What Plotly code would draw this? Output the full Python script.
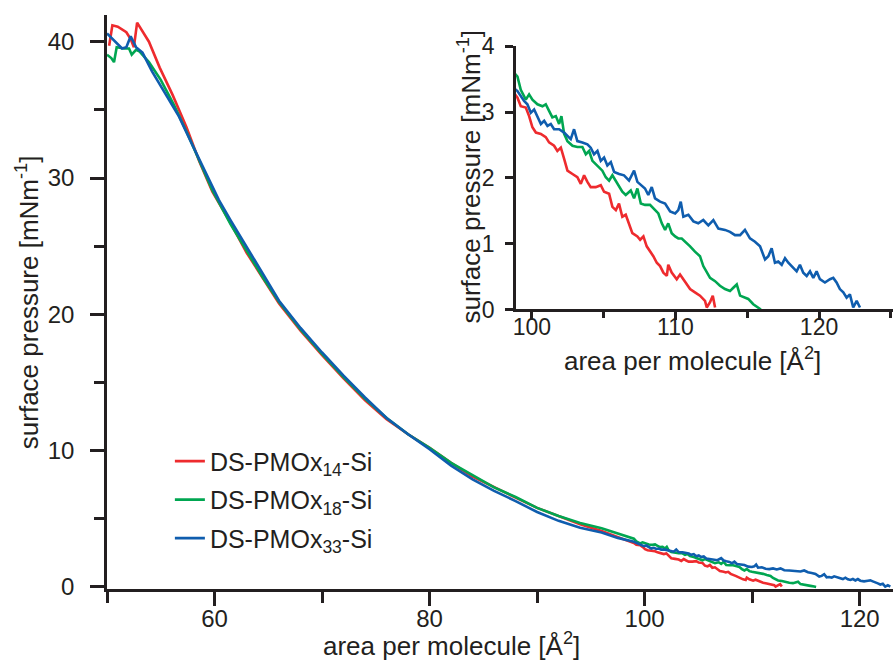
import plotly.graph_objects as go

# ---------------- data ----------------
series_names = ["DS-PMOx<sub>14</sub>-Si", "DS-PMOx<sub>18</sub>-Si", "DS-PMOx<sub>33</sub>-Si"]
series_colors = ["#EE2B2E", "#00A651", "#0F5DAE"]

# compressed region (50 - 97.5 Å²)
red_area_high = [50.2, 50.5, 51.0, 51.8, 52.2, 52.5, 52.8, 53.3, 53.9, 54.9,
                 56.1, 57.4, 58.6, 59.8, 61.5, 63.0, 64.5, 66.0, 68.0, 70.0,
                 72.0, 74.0, 76.0, 78.0, 80.0, 82.0, 84.0, 86.0, 88.0, 90.0,
                 92.0, 94.0, 96.0, 97.5]
red_pressure_high = [39.7, 41.2, 41.1, 40.7, 40.2, 39.6, 41.4, 40.8, 40.0, 38.1,
                     36.1, 33.7, 31.2, 29.0, 26.7, 24.5, 22.6, 20.8, 18.8, 17.0,
                     15.3, 13.7, 12.3, 11.2, 10.2, 9.1, 8.1, 7.3, 6.55, 5.8,
                     5.2, 4.6, 4.1, 3.65]
green_area_high = [50.0, 50.4, 50.65, 50.9, 51.6, 52.05, 52.3, 52.7, 53.0, 53.9,
                   55.0, 56.2, 57.4, 58.6, 59.8, 61.5, 63.0, 64.5, 66.0, 68.0,
                   70.0, 72.0, 74.0, 76.0, 78.0, 80.0, 82.0, 84.0, 86.0, 88.0,
                   90.0, 92.0, 94.0, 96.0, 97.5]
green_pressure_high = [39.05, 38.8, 38.5, 39.6, 39.5, 39.5, 39.05, 39.4, 39.3, 38.5,
                       37.2, 35.4, 33.4, 31.2, 29.1, 26.6, 24.6, 22.7, 20.9, 18.9,
                       17.1, 15.4, 13.8, 12.4, 11.2, 10.2, 9.1, 8.2, 7.3, 6.6,
                       5.8, 5.2, 4.7, 4.3, 3.9]
blue_area_high = [50.0, 50.65, 51.0, 51.4, 51.8, 52.2, 52.7, 53.3, 54.2, 55.5,
                  56.7, 57.9, 59.2, 60.4, 61.5, 63.0, 64.5, 66.0, 68.0, 70.0,
                  72.0, 74.0, 76.0, 78.0, 80.0, 82.0, 84.0, 86.0, 88.0, 90.0,
                  92.0, 94.0, 96.0, 97.5]
blue_pressure_high = [40.6, 40.1, 39.8, 39.5, 39.6, 40.4, 39.6, 39.2, 37.8, 36.1,
                      34.5, 32.5, 30.3, 28.4, 26.9, 24.9, 22.9, 21.0, 19.0, 17.2,
                      15.5, 13.9, 12.4, 11.2, 10.1, 8.9, 7.9, 7.05, 6.3, 5.5,
                      4.85, 4.35, 4.0, 3.6]

# expanded region (99 - 123 Å²)
red_area_low = [99.0, 99.23, 99.58, 99.81, 100.04, 100.28, 100.63, 100.97, 101.2, 101.55,
                101.78, 102.02, 102.25, 102.48, 102.83, 103.17, 103.41, 103.64, 103.87, 104.1,
                104.45, 104.8, 105.03, 105.38, 105.61, 105.85, 106.07, 106.3, 106.54, 106.77,
                107.0, 107.35, 107.54, 107.77, 108.0, 108.46, 108.7, 108.93, 109.16, 109.4,
                109.5, 109.74, 110.09, 110.32, 110.67, 111.02, 111.36, 111.71, 112.06, 112.18,
                112.41, 112.6, 112.76]
red_pressure_low = [3.22, 3.09, 3.07, 2.94, 2.77, 2.69, 2.67, 2.62, 2.54, 2.49,
                    2.41, 2.46, 2.29, 2.11, 2.06, 2.01, 1.91, 2.04, 1.94, 1.86,
                    1.86, 1.89, 1.79, 1.76, 1.56, 1.51, 1.61, 1.41, 1.44, 1.31,
                    1.16, 1.11, 1.06, 1.11, 0.96, 0.81, 0.71, 0.66, 0.56, 0.51,
                    0.68, 0.56, 0.46, 0.53, 0.41, 0.31, 0.26, 0.21, 0.13, 0.03,
                    0.11, 0.21, 0.03]
green_area_low = [99.0, 99.23, 99.58, 99.81, 100.04, 100.39, 100.74, 100.97, 101.2, 101.43,
                  101.67, 101.9, 102.06, 102.25, 102.48, 102.83, 103.17, 103.52, 103.76, 103.99,
                  104.22, 104.57, 104.91, 105.15, 105.38, 105.61, 105.96, 106.3, 106.54, 106.89,
                  107.12, 107.35, 107.59, 107.88, 108.23, 108.58, 108.81, 109.05, 109.28, 109.5,
                  109.74, 109.98, 110.2, 110.44, 110.79, 111.02, 111.36, 111.71, 111.94, 112.18,
                  112.41, 112.76, 113.1, 113.45, 113.8, 114.03, 114.27, 114.5, 114.84, 115.07,
                  115.42, 115.77, 115.95]
green_pressure_low = [3.54, 3.34, 3.19, 3.27, 3.19, 3.12, 3.09, 3.12, 3.02, 2.92,
                      2.94, 2.82, 2.94, 2.67, 2.56, 2.49, 2.47, 2.47, 2.36, 2.41,
                      2.26, 2.19, 2.11, 2.01, 1.96, 2.04, 1.91, 1.79, 1.74, 1.81,
                      1.69, 1.84, 1.61, 1.59, 1.59, 1.51, 1.46, 1.31, 1.21, 1.31,
                      1.16, 1.11, 1.08, 1.08, 1.01, 0.96, 0.88, 0.81, 0.66, 0.56,
                      0.48, 0.43, 0.36, 0.31, 0.28, 0.33, 0.38, 0.21, 0.18, 0.16,
                      0.08, 0.03, 0.0]
blue_area_low = [99.0, 99.23, 99.46, 99.69, 99.93, 100.16, 100.39, 100.63, 100.86, 101.09,
                 101.32, 101.55, 101.9, 102.25, 102.48, 102.71, 102.94, 103.17, 103.52, 103.87,
                 104.1, 104.33, 104.57, 104.8, 105.03, 105.26, 105.5, 105.73, 106.08, 106.42,
                 106.77, 107.12, 107.35, 107.6, 107.88, 108.11, 108.35, 108.58, 108.93, 109.28,
                 109.63, 109.98, 110.2, 110.37, 110.55, 110.9, 111.25, 111.59, 111.94, 112.29,
                 112.64, 112.99, 113.45, 113.8, 114.15, 114.5, 114.84, 115.19, 115.54, 115.89,
                 116.24, 116.47, 116.7, 116.93, 117.16, 117.4, 117.63, 117.86, 118.2, 118.44,
                 118.67, 118.9, 119.14, 119.37, 119.6, 119.83, 120.06, 120.41, 120.76, 120.99,
                 121.22, 121.45, 121.69, 121.92, 122.15, 122.38, 122.62, 122.85]
blue_pressure_low = [3.32, 3.24, 3.17, 3.12, 2.99, 3.04, 2.92, 2.82, 2.87, 2.79,
                     2.82, 2.74, 2.74, 2.69, 2.64, 2.59, 2.74, 2.56, 2.54, 2.51,
                     2.46, 2.36, 2.41, 2.26, 2.31, 2.19, 2.24, 2.09, 2.06, 2.04,
                     1.96, 2.11, 1.94, 1.89, 1.84, 1.74, 1.86, 1.69, 1.64, 1.61,
                     1.49, 1.46, 1.51, 1.64, 1.41, 1.44, 1.34, 1.31, 1.36, 1.28,
                     1.36, 1.23, 1.21, 1.18, 1.13, 1.13, 1.21, 1.08, 1.03, 0.96,
                     0.76, 0.81, 0.93, 0.71, 0.73, 0.68, 0.78, 0.71, 0.63, 0.58,
                     0.68, 0.56, 0.51, 0.58, 0.48, 0.58, 0.46, 0.41, 0.46, 0.48,
                     0.41, 0.31, 0.26, 0.18, 0.23, 0.03, 0.13, 0.03]

areas = [red_area_high + red_area_low,
         green_area_high + green_area_low,
         blue_area_high + blue_area_low]
pressures = [red_pressure_high + red_pressure_low,
             green_pressure_high + green_pressure_low,
             blue_pressure_high + blue_pressure_low]

main_x_ticks = [60, 80, 100, 120]
main_y_ticks = [0, 10, 20, 30, 40]
inset_x_ticks = [100, 110, 120]
inset_y_ticks = [0, 1, 2, 3, 4]

x_title = "area per molecule [Å<sup>2</sup>]"
y_title = "surface pressure [mNm<sup>-1</sup>]"

# ---------------- figure ----------------
AX = "#231F20"
FONT = "Liberation Sans, Arial, sans-serif"
LW = 2.6

fig = go.Figure()
for i in range(3):
    fig.add_trace(go.Scatter(
        x=areas[i], y=pressures[i], mode="lines", name=series_names[i],
        line=dict(color=series_colors[i], width=LW),
        legendgroup=f"g{i}", xaxis="x", yaxis="y"))
for i in range(3):
    fig.add_trace(go.Scatter(
        x=areas[i], y=pressures[i], mode="lines", showlegend=False,
        line=dict(color=series_colors[i], width=LW),
        xaxis="x2", yaxis="y2"))

common = dict(showgrid=False, zeroline=False, showline=True, linecolor=AX,
              linewidth=LW, ticks="outside", tickcolor=AX, tickwidth=LW)

fig.update_layout(
    width=895, height=661,
    margin=dict(l=107, r=2, t=10, b=72),
    paper_bgcolor="white", plot_bgcolor="white",
    font=dict(family=FONT, color=AX),
    xaxis=dict(range=[50, 123.1], tickvals=main_x_ticks, ticklen=14,
               ticklabelstandoff=-8,
               tickfont=dict(family=FONT, size=24, color=AX),
               minor=dict(dtick=10, tick0=50, ticklen=11, tickwidth=LW,
                          tickcolor=AX, ticks="outside"),
               domain=[0, 1], anchor="y", **common),
    yaxis=dict(range=[-0.15, 41.96], tickvals=main_y_ticks, ticklen=14,
               ticklabelstandoff=11,
               tickfont=dict(family=FONT, size=24, color=AX),
               minor=dict(dtick=5, tick0=0, ticklen=10, tickwidth=LW,
                          tickcolor=AX, ticks="outside"),
               domain=[0, 1], anchor="x", **common),
    xaxis2=dict(range=[98.9, 125.15], tickvals=inset_x_ticks, ticklen=8,
                ticklabelstandoff=-13,
                tickfont=dict(family=FONT, size=23, color=AX),
                minor=dict(dtick=5, tick0=100, ticklen=6, tickwidth=LW,
                           tickcolor=AX, ticks="outside"),
                domain=[0.5204, 1.0], anchor="y2", **common),
    yaxis2=dict(range=[0, 4], tickvals=inset_y_ticks, ticklen=8,
                ticklabelstandoff=6,
                tickfont=dict(family=FONT, size=23, color=AX),
                domain=[0.487, 0.9453], anchor="x2", **common),
    legend=dict(x=0.080, y=0.2625, xanchor="left", yanchor="top",
                bgcolor="rgba(0,0,0,0)", traceorder="grouped",
                tracegroupgap=3,
                font=dict(family=FONT, size=25, color=AX)),
    annotations=[
        dict(text=x_title, xref="paper", yref="paper",
             x=0.4377, y=-0.096, xanchor="center", yanchor="middle",
             showarrow=False, font=dict(family=FONT, size=26, color=AX)),
        dict(text=y_title, xref="paper", yref="paper",
             x=-0.101, y=0.499, xanchor="center", yanchor="middle", textangle=-90,
             showarrow=False, font=dict(family=FONT, size=26, color=AX)),
        dict(text=x_title, xref="paper", yref="paper",
             x=0.7455, y=0.399, xanchor="center", yanchor="middle",
             showarrow=False, font=dict(family=FONT, size=26, color=AX)),
        dict(text=y_title, xref="paper", yref="paper",
             x=0.4618, y=0.7185, xanchor="center", yanchor="middle", textangle=-90,
             showarrow=False, font=dict(family=FONT, size=26, color=AX)),
    ],
)

fig.write_html("out.html")
